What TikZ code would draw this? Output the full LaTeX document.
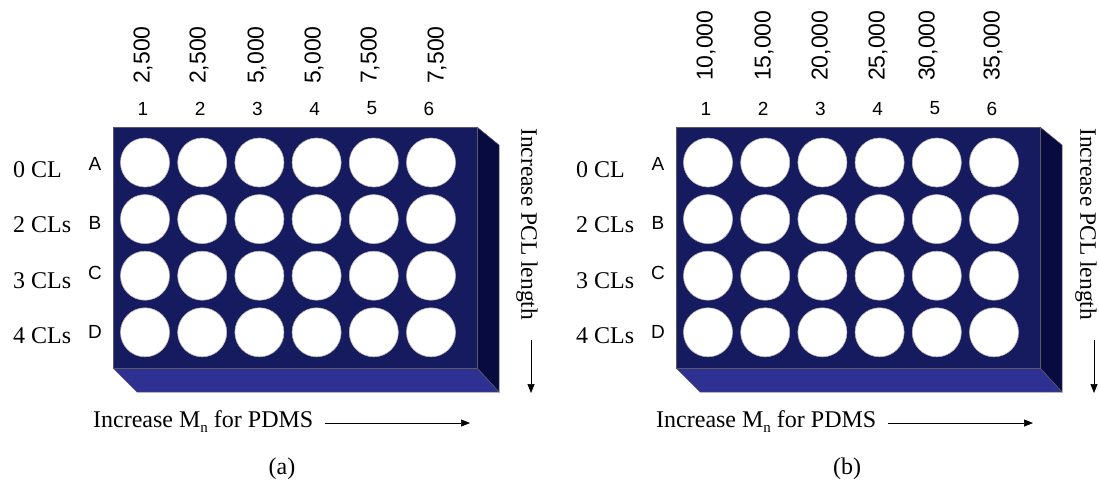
\documentclass[tikz,border=0pt]{standalone}
\usepackage{fontspec}
\setmainfont{Liberation Serif}
\newfontfamily\arialfont{Liberation Sans}
\usetikzlibrary{arrows.meta}
\definecolor{plateface}{RGB}{22,26,94}
\definecolor{plateside}{RGB}{8,11,64}
\definecolor{platebottom}{RGB}{46,49,146}
\definecolor{plateedge}{RGB}{90,90,100}
\newcommand{\mysub}[1]{\raisebox{-5pt}{\fontsize{15}{15}\selectfont #1}}
\newcommand{\myplate}[1]{%
  \filldraw[plateside, draw=plateedge, line width=0.5pt] (477,127) -- (499,145) -- (499,392) -- (477,368) -- cycle;
  \filldraw[platebottom, draw=plateedge, line width=0.5pt] (113,368) -- (477,368) -- (499,392) -- (137,392) -- cycle;
  \filldraw[plateface, draw=plateedge, line width=0.5pt] (113,127) rectangle (477,368);
  \foreach \r [count=\j from 0] in {A,B,C,D}{
    \foreach \c [count=\i from 0] in {1,...,6}{
      \node[well] (well-\r\c) at ({145+57.2*\i},{162.5+56.6*\j}) {};
    }
  }
  \foreach \r/\y in {A/164,B/223,C/273,D/332}{
    \node[rowletter] (row-\r) at (95,\y) {\r};
  }
  \foreach \t/\y [count=\k] in {0 CL/177,2 CLs/232,3 CLs/288,4 CLs/343}{
    \node[cllabel] (cl-\k) at (13,\y) {\t};
  }
  \foreach \c [count=\i from 0] in {1,...,6}{
    \node[colnum] (col-\c) at ({143+57.2*\i},108.5) {\c};
  }
  \node[sidelabel] (pcl) at (#1,128) {Increase PCL length};
  \coordinate (pclA) at (531,340);
  \coordinate (pclB) at (531,393);
  \draw[arr] (pclA) -- (pclB);
  \node[axislabel, anchor=base west] (mn) at (93,427) {Increase M\mysub{n} for PDMS};
  \coordinate (mnA) at (325,423);
  \coordinate (mnB) at (470,423);
  \draw[arr] (mnA) -- (mnB);
}
\begin{document}
\begin{tikzpicture}[x=1pt,y=-1pt,
  well/.style={circle, fill=white, draw=gray!55, line width=0.6pt, minimum size=49pt, inner sep=0pt},
  colnum/.style={font=\arialfont\fontsize{19}{21}\selectfont, inner sep=0pt},
  mwlabel/.style={font=\arialfont\fontsize{23}{25}\selectfont, rotate=90, anchor=west, inner sep=0pt},
  rowletter/.style={font=\arialfont\fontsize{19}{21}\selectfont, inner sep=0pt},
  cllabel/.style={font=\fontsize{24}{26}\selectfont, anchor=base west, inner sep=0pt},
  axislabel/.style={font=\fontsize{24}{26}\selectfont, inner sep=0pt},
  sidelabel/.style={font=\fontsize{23.5}{26}\selectfont, rotate=-90, anchor=west, inner sep=0pt},
  arr/.style={-{Triangle[length=9pt,width=7pt]}, line width=0.7pt}
]
\useasboundingbox (0,0) rectangle (1099,483);
\begin{scope}[name prefix=a-]
  \myplate{527}
  \foreach \v/\x [count=\k] in {2{,}500/143,2{,}500/199,5{,}000/257,5{,}000/314,7{,}500/370,7{,}500/437}{
    \node[mwlabel] (mw-\k) at (\x,84) {\v};
  }
  \node[axislabel] (cap) at (282,469) {(a)};
\end{scope}
\begin{scope}[name prefix=b-, xshift=563pt]
  \myplate{523}
  \foreach \v/\x [count=\k] in {10{,}000/143,15{,}000/201,20{,}000/258,25{,}000/315,30{,}000/365,35{,}000/430}{
    \node[mwlabel] (mw-\k) at (\x,81) {\v};
  }
  \node[axislabel] (cap) at (284,469) {(b)};
\end{scope}
\end{tikzpicture}
\end{document}
